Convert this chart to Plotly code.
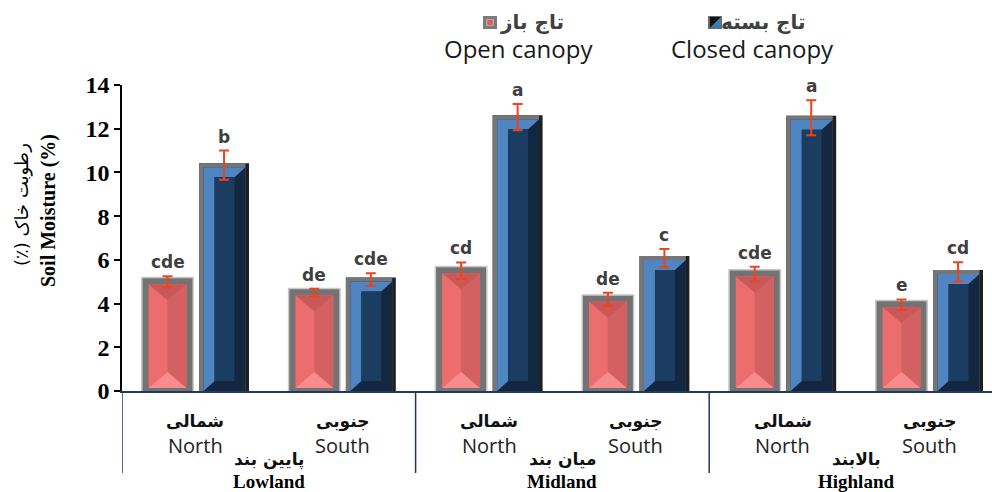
import numpy as np
import plotly.graph_objects as go

# ---------------- data ----------------
regions_en = ["Lowland", "Midland", "Highland"]
regions_fa = ["پایین بند", "میان بند", "بالابند"]
aspects_en = ["North", "South"]
aspects_fa = ["شمالی", "جنوبی"]

open_mean = [5.0, 4.5, 5.5, 4.2, 5.35, 3.95]
open_se = [0.25, 0.18, 0.38, 0.30, 0.33, 0.24]
closed_mean = [10.33, 5.1, 12.53, 6.08, 12.5, 5.45]
closed_se = [0.67, 0.29, 0.60, 0.42, 0.80, 0.44]
open_letters = ["cde", "de", "cd", "de", "cde", "e"]
closed_letters = ["b", "cde", "a", "c", "a", "cd"]

y_tick_vals = [0, 2, 4, 6, 8, 10, 12, 14]

series_fa = ["تاج باز", "تاج بسته"]
series_en = ["Open canopy", "Closed canopy"]
ytitle_fa = "\u200fرطوبت خاک (٪)\u200f"
ytitle_en = "Soil Moisture (%)"

# ---------------- layout constants ----------------
FIG_W, FIG_H = 992, 492
M_L, M_R, M_T, M_B = 122, 0, 85, 101
PW = FIG_W - M_L - M_R
PH = FIG_H - M_T - M_B
PX_PER_CAT = 146.8
X_RANGE = [-0.5, -0.5 + PW / PX_PER_CAT]
Y_RANGE = [0, 14]
PX_PER_Y = PH / (Y_RANGE[1] - Y_RANGE[0])


def dx(p):
    return p / PX_PER_CAT


def dy(p):
    return p / PX_PER_Y


def px_x(p):
    return (p - M_L) / PW


def px_y(p):
    return (FIG_H - M_B - p) / PH


n = len(open_mean)
xs = np.arange(n)
OPEN_L, OPEN_R = -0.36, -0.02
CLOSED_L, CLOSED_R = 0.025, 0.365

fig = go.Figure()

# ---- base bars (outer frames) ----
om = np.array(open_mean)
cm = np.array(closed_mean)
fig.add_trace(go.Bar(x=xs, y=om + dy(5), offset=OPEN_L - dx(1.5), width=(OPEN_R - OPEN_L) + dx(3),
                     marker=dict(color="#C8C8C8", line=dict(width=0)), hoverinfo="skip", showlegend=False))
fig.add_trace(go.Bar(x=xs, y=om + dy(3.5), offset=OPEN_L, width=OPEN_R - OPEN_L,
                     marker=dict(color="#737373", line=dict(width=0)), name=series_en[0], showlegend=False))
fig.add_trace(go.Bar(x=xs, y=cm + dy(2), offset=CLOSED_L, width=CLOSED_R - CLOSED_L,
                     marker=dict(color="#1E1E1E", line=dict(width=0)), name=series_en[1], showlegend=False))
fig.add_trace(go.Bar(x=xs, y=cm + dy(2), offset=CLOSED_L, width=(CLOSED_R - CLOSED_L) - dx(3.5),
                     marker=dict(color="#767676", line=dict(width=0)), hoverinfo="skip", showlegend=False))


def add_polys(polys, color):
    px, py = [], []
    for poly in polys:
        for (a, b) in poly:
            px.append(a)
            py.append(b)
        px.append(poly[0][0])
        py.append(poly[0][1])
        px.append(None)
        py.append(None)
    fig.add_trace(go.Scatter(x=px, y=py, mode="lines", fill="toself", fillcolor=color,
                             line=dict(width=0, color=color), hoverinfo="skip", showlegend=False))


def rect(xl, xr, yb, yt):
    return [(xl, yb), (xl, yt), (xr, yt), (xr, yb)]


# ---- open canopy bevel ----
o_left, o_right, o_top, o_bot = [], [], [], []
for xc, v in zip(xs, open_mean):
    il = xc + OPEN_L + dx(6)
    ir = xc + OPEN_R - dx(6)
    ib = dy(3)
    it = v - dy(2.5)
    im = (il + ir) / 2
    o_left.append(rect(il, ir, ib, it))
    o_right.append(rect(im, ir, ib, it))
    o_top.append([(il, it), (ir, it), (im, it - dy(16))])
    o_bot.append([(il, ib), (ir, ib), (im, ib + dy(16))])
add_polys(o_left, "#EB6D6D")
add_polys(o_right, "#D46161")
add_polys(o_top, "#C95959")
add_polys(o_bot, "#F88B8B")

# ---- closed canopy bevel ----
c_dark, c_light, c_mid = [], [], []
bx, by = dx(11), dy(10)
for xc, v in zip(xs, closed_mean):
    il = xc + CLOSED_L + dx(4.5)
    ir = xc + CLOSED_R - dx(3.5)
    it = v - dy(2)
    c_dark.append(rect(il, ir, 0, it))
    c_light.append([(il, 0), (il, it), (ir, it), (ir - bx, it - by), (il + bx, it - by), (il + bx, by)])
    c_mid.append(rect(il + bx, ir - bx, by, it - by))
add_polys(c_dark, "#132740")
add_polys(c_light, "#4F86C1")
add_polys(c_mid, "#1B3D62")

# ---- error bars ----
err_style = dict(type="data", color="#F0421C", thickness=2, width=5, visible=True)
fig.add_trace(go.Scatter(x=xs + (OPEN_L + OPEN_R) / 2, y=open_mean, mode="markers",
                         marker=dict(size=1, color="rgba(0,0,0,0)"),
                         error_y=dict(array=open_se, **err_style), showlegend=False, hoverinfo="skip"))
fig.add_trace(go.Scatter(x=xs + (CLOSED_L + CLOSED_R) / 2, y=closed_mean, mode="markers",
                         marker=dict(size=1, color="rgba(0,0,0,0)"),
                         error_y=dict(array=closed_se, **err_style), showlegend=False, hoverinfo="skip"))

annotations = []
letter_font = dict(family="DejaVu Sans", size=17, color="#3F3F3F", weight="bold")
for xc, v, e, t in zip(xs, open_mean, open_se, open_letters):
    annotations.append(dict(x=xc + (OPEN_L + OPEN_R) / 2, y=v + e, xref="x", yref="y", text=t,
                            showarrow=False, yanchor="bottom", yshift=2, font=letter_font))
for xc, v, e, t in zip(xs, closed_mean, closed_se, closed_letters):
    annotations.append(dict(x=xc + (CLOSED_L + CLOSED_R) / 2, y=v + e, xref="x", yref="y", text=t,
                            showarrow=False, yanchor="bottom", yshift=2, font=letter_font))

# ---- category labels ----
fa_font = dict(family="DejaVu Sans", size=17, color="#111111", weight="bold")
en_font = dict(family="Open Sans", size=20, color="#222222")
for i, xc in enumerate(xs):
    annotations.append(dict(x=xc, y=0, xref="x", yref="paper", text=aspects_fa[i % 2], showarrow=False,
                            yanchor="middle", yshift=-30, font=fa_font))
    annotations.append(dict(x=xc, y=0, xref="x", yref="paper", text=aspects_en[i % 2], showarrow=False,
                            yanchor="middle", yshift=-54, font=en_font))
for g in range(len(regions_en)):
    gc = 2 * g + 0.5
    annotations.append(dict(x=gc, y=0, xref="x", yref="paper", text=regions_fa[g], showarrow=False,
                            yanchor="middle", yshift=-68, font=fa_font))
    annotations.append(dict(x=gc, y=0, xref="x", yref="paper", text=regions_en[g], showarrow=False,
                            yanchor="middle", yshift=-90,
                            font=dict(family="Liberation Serif", size=19, color="#000000", weight="bold")))

# ---- y-axis title ----
annotations.append(dict(x=0, y=0, xref="paper", yref="paper", text=ytitle_fa, showarrow=False,
                        textangle=-90, xanchor="center", yanchor="middle", xshift=22 - M_L, yshift=391 - 205,
                        font=dict(family="DejaVu Sans", size=18, color="#000000")))
annotations.append(dict(x=0, y=0, xref="paper", yref="paper", text=ytitle_en, showarrow=False,
                        textangle=-90, xanchor="center", yanchor="middle", xshift=48 - M_L, yshift=391 - 211,
                        font=dict(family="Liberation Serif", size=20, color="#000000", weight="bold")))

# ---- legend ----
leg_fa_font = dict(family="DejaVu Sans", size=20, color="#404040", weight="bold")
leg_en_font = dict(family="Open Sans", size=24, color="#1A1A1A")
for name_fa, name_en, cx_fa, cx_en in [(series_fa[0], series_en[0], 532, 518),
                                      (series_fa[1], series_en[1], 763, 752)]:
    annotations.append(dict(x=px_x(cx_fa), y=px_y(22), xref="paper", yref="paper", text=name_fa,
                            showarrow=False, xanchor="center", yanchor="middle", font=leg_fa_font))
    annotations.append(dict(x=px_x(cx_en), y=px_y(49), xref="paper", yref="paper", text=name_en,
                            showarrow=False, xanchor="center", yanchor="middle", font=leg_en_font))

shapes = []
# open swatch
shapes.append(dict(type="rect", xref="paper", yref="paper", x0=px_x(483), x1=px_x(497), y0=px_y(29), y1=px_y(16),
                   fillcolor="#7A7A7A", line=dict(width=0)))
shapes.append(dict(type="rect", xref="paper", yref="paper", x0=px_x(486), x1=px_x(494), y0=px_y(26), y1=px_y(19),
                   fillcolor="#A8A8A8", line=dict(width=0)))
shapes.append(dict(type="rect", xref="paper", yref="paper", x0=px_x(487.5), x1=px_x(492.5), y0=px_y(25), y1=px_y(20),
                   fillcolor="#E85A5A", line=dict(width=0)))
# closed swatch
shapes.append(dict(type="rect", xref="paper", yref="paper", x0=px_x(708), x1=px_x(722), y0=px_y(29), y1=px_y(16),
                   fillcolor="#6A6A6A", line=dict(width=0)))
shapes.append(dict(type="path", xref="paper", yref="paper",
                   path=f"M {px_x(710)},{px_y(28)} L {px_x(710)},{px_y(17)} L {px_x(721)},{px_y(17)} Z",
                   fillcolor="#121212", line=dict(width=0)))
shapes.append(dict(type="path", xref="paper", yref="paper",
                   path=f"M {px_x(710)},{px_y(28)} L {px_x(721)},{px_y(17)} L {px_x(721)},{px_y(28)} Z",
                   fillcolor="#3C78B8", line=dict(width=0)))
# group separators
for sx in [-0.5, 1.5, 3.5]:
    shapes.append(dict(type="line", xref="x", yref="paper", x0=sx, x1=sx, y0=0, y1=-(473 - 391) / PH,
                       line=dict(color="#203864", width=1.5)))

fig.update_layout(
    width=FIG_W, height=FIG_H,
    margin=dict(l=M_L, r=M_R, t=M_T, b=M_B),
    paper_bgcolor="white", plot_bgcolor="white",
    barmode="overlay",
    showlegend=False,
    annotations=annotations,
    shapes=shapes,
    xaxis=dict(range=X_RANGE, showticklabels=False, ticks="", showgrid=False, zeroline=False,
               showline=True, linecolor="#203864", linewidth=1.5, fixedrange=True),
    yaxis=dict(range=Y_RANGE, tickvals=y_tick_vals, ticks="outside", ticklen=6, tickwidth=1.5,
               tickcolor="black", showgrid=False, zeroline=False, showline=True, linecolor="black",
               linewidth=1.5, tickfont=dict(family="Liberation Serif", size=24, color="black", weight="bold"),
               fixedrange=True),
)

fig.write_html("out.html", config={"displayModeBar": False},
               post_script="document.body.style.margin='0';document.body.style.padding='0';")
